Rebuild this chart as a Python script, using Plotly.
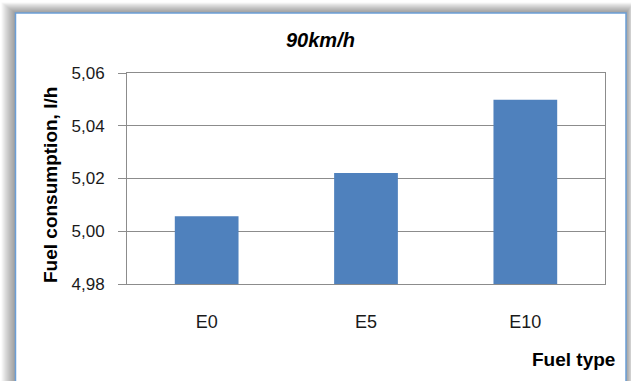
import plotly.graph_objects as go

# Fuel consumption at 90 km/h for each ethanol blend
fuel_types = ["E0", "E5", "E10"]
consumption = [5.0057, 5.0221, 5.0499]
y_ticks = [4.98, 5.00, 5.02, 5.04, 5.06]

W, H = 631, 381
L, R, T, B = 127, 605, 73, 284  # plot area in pixels


def px(x):
    return (x - L) / (R - L)


def py(y):
    return (B - y) / (B - T)


fig = go.Figure(
    go.Bar(
        x=fuel_types,
        y=consumption,
        marker=dict(color="#4f81bd", line=dict(width=0)),
        width=0.4,
    )
)

shapes = []
# soft drop shadow around the chart frame
for i in range(14, 0, -1):
    shapes.append(dict(
        type="rect", xref="paper", yref="paper", layer="below",
        x0=px(15.5 - i), x1=px(626 + i * 0.55),
        y0=py(420), y1=py(13 - i * 0.75),
        fillcolor="rgba(0,0,0,0.03)", line=dict(width=0),
    ))
# chart frame
shapes.append(dict(
    type="rect", xref="paper", yref="paper", layer="below",
    x0=px(15.5), x1=px(626), y0=py(420), y1=py(13),
    fillcolor="white", line=dict(color="#6b9ed6", width=1.5),
))

fig.update_layout(
    width=W, height=H,
    margin=dict(l=L, r=W - R, t=T, b=H - B, pad=0),
    paper_bgcolor="white",
    plot_bgcolor="rgba(0,0,0,0)",
    separators=", ",
    showlegend=False,
    shapes=shapes,
    bargap=0.6,
    font=dict(family="Liberation Sans, Arial", color="#1a1a1a"),
    annotations=[
        dict(text="<b><i>90km/h</i></b>", xref="paper", yref="paper",
             x=px(320), y=py(40), xanchor="center", yanchor="middle",
             showarrow=False, font=dict(size=20, color="#000")),
        dict(text="<b>Fuel consumption, l/h</b>", xref="paper", yref="paper",
             x=px(50), y=py(185), xanchor="center", yanchor="middle",
             textangle=-90, showarrow=False,
             font=dict(size=19, color="#000")),
        dict(text="<b>Fuel type</b>", xref="paper", yref="paper",
             x=px(617), y=py(359), xanchor="right", yanchor="middle",
             showarrow=False, font=dict(size=19, color="#000")),
    ],
)

fig.update_xaxes(
    showgrid=False, showline=True, linecolor="#8c8c8c", linewidth=1,
    mirror=True, ticks="", ticklabelstandoff=21,
    tickfont=dict(size=18, color="#1a1a1a"),
)
fig.update_yaxes(
    range=[4.98, 5.06], tickvals=y_ticks, tickformat=".2f",
    showgrid=True, gridcolor="#8c8c8c", gridwidth=1,
    showline=True, linecolor="#8c8c8c", linewidth=1, mirror=True,
    ticks="outside", ticklen=8, tickcolor="#8c8c8c",
    ticklabelstandoff=10, zeroline=False,
    tickfont=dict(size=17, color="#1a1a1a"),
)

fig.write_html("out.html")
